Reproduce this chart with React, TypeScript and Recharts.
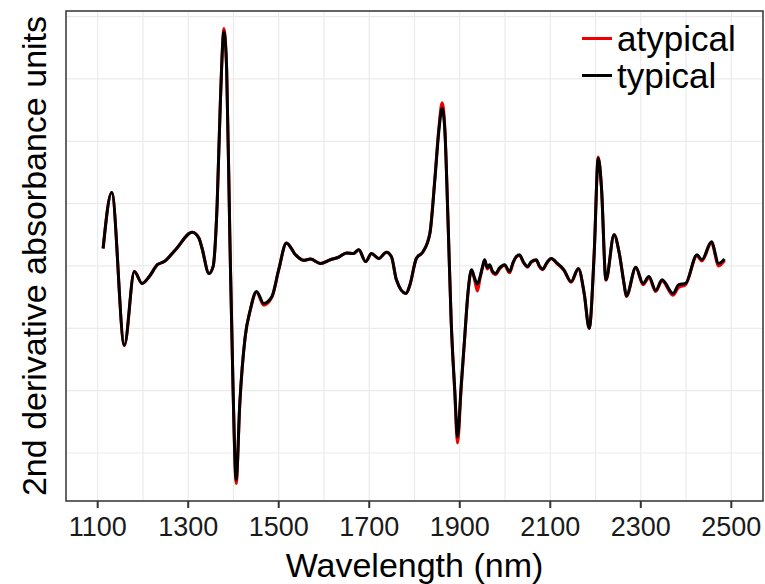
import { LineChart, Line, XAxis, YAxis, CartesianGrid, ReferenceArea, Legend } from 'recharts';

const FONT = '"Liberation Sans", Arial, Helvetica, sans-serif';

// wavelength (nm)
const wavelength = [
  1112, 1131, 1159, 1181, 1198, 1214, 1232, 1247, 1272, 1309, 1324, 1330, 1346, 1355, 1364, 1371,
  1379, 1385, 1392, 1399, 1406, 1414, 1426, 1437, 1451, 1467, 1485, 1500, 1517, 1537, 1555, 1570,
  1592, 1614, 1632, 1650, 1665, 1677, 1692, 1705, 1721, 1738, 1749, 1760, 1781, 1790, 1804, 1819,
  1834, 1845, 1854, 1861, 1867, 1874, 1881, 1889, 1895, 1903, 1911, 1918, 1926, 1933, 1939, 1945,
  1950, 1955, 1961, 1966, 1972, 1979, 1988, 1999, 2010, 2018, 2025, 2032, 2041, 2050, 2058, 2069,
  2076, 2083, 2093, 2102, 2116, 2130, 2146, 2162, 2175, 2186,
  2197, 2206, 2213, 2223, 2241, 2252, 2263, 2268, 2289, 2305, 2318, 2333, 2347, 2371, 2384, 2399,
  2424, 2435, 2456, 2472, 2485,
];

const typical = [
  0.28, 1.18, -1.27, -0.09, -0.28, -0.17, 0.02, 0.07, 0.26, 0.54, 0.44, 0.3, -0.12, -0.01, 1.0, 2.61,
  3.76, 3.14, 0.47, -1.93, -3.43, -2.2, -1.13, -0.71, -0.41, -0.6, -0.49, -0.06, 0.37, 0.18, 0.09, 0.11,
  0.04, 0.1, 0.14, 0.21, 0.2, 0.26, 0.07, 0.2, 0.12, 0.22, 0.15, -0.22, -0.44, -0.3, 0.12, 0.23,
  0.52, 1.38, 2.18, 2.53, 2.18, 0.74, -0.87, -1.99, -2.74, -1.93, -1.13, -0.44, -0.06, -0.2, -0.29, -0.17,
  -0.02, 0.1, -0.03, 0.02, -0.08, -0.12, -0.03, 0.02, -0.09, 0.06, 0.15, 0.18, 0.06, -0.01, 0.07, 0.1,
  0.0, -0.05, 0.06, 0.12, 0.04, -0.06, -0.25, -0.04, -0.44, -1.0,
  0.2, 1.73, 1.27, -0.22, 0.5, 0.22, -0.28, -0.48, -0.02, -0.28, -0.17, -0.39, -0.22, -0.44, -0.3, -0.28,
  0.18, 0.1, 0.39, 0.04, 0.11,
];

const atypical = [
  0.28, 1.18, -1.28, -0.09, -0.28, -0.17, 0.02, 0.07, 0.26, 0.54, 0.44, 0.3, -0.12, -0.01, 1.0, 2.63,
  3.81, 3.16, 0.47, -1.95, -3.49, -2.22, -1.13, -0.71, -0.42, -0.63, -0.5, -0.06, 0.37, 0.18, 0.09, 0.11,
  0.04, 0.1, 0.14, 0.21, 0.2, 0.26, 0.07, 0.2, 0.12, 0.22, 0.15, -0.22, -0.44, -0.3, 0.12, 0.23,
  0.53, 1.41, 2.23, 2.62, 2.22, 0.74, -0.89, -2.04, -2.84, -1.98, -1.15, -0.45, -0.07, -0.23, -0.4, -0.19,
  -0.04, 0.09, -0.05, 0.01, -0.1, -0.14, -0.05, 0.01, -0.11, 0.05, 0.15, 0.17, 0.05, -0.02, 0.06, 0.09,
  -0.01, -0.06, 0.05, 0.12, 0.03, -0.07, -0.26, -0.05, -0.45, -1.0,
  0.2, 1.75, 1.27, -0.23, 0.5, 0.22, -0.29, -0.49, -0.03, -0.3, -0.19, -0.41, -0.24, -0.47, -0.34, -0.3,
  0.16, 0.08, 0.37, 0.0, 0.09,
];

const xTicks = [1100, 1300, 1500, 1700, 1900, 2100, 2300, 2500];
const xGrid = [1100, 1200, 1300, 1400, 1500, 1600, 1700, 1800, 1900, 2000, 2100, 2200, 2300, 2400, 2500];
const yGrid = [-3, -2, -1, 0, 1, 2, 3, 4];

const rows = wavelength.map((nm, i) => ({ nm, typical: typical[i], atypical: atypical[i] }));

const renderLegend = (props: any) => {
  const { payload } = props;
  return (
    <div style={{ fontFamily: FONT }}>
      {(payload || []).map((entry: any) => (
        <div key={entry.value} style={{ display: 'flex', alignItems: 'center', height: 37 }}>
          <span style={{ display: 'inline-block', width: 30, height: 3, background: entry.color, marginRight: 5 }} />
          <span style={{ fontSize: 35, lineHeight: '37px', color: '#000' }}>{entry.value}</span>
        </div>
      ))}
    </div>
  );
};

export default function App() {
  return (
    <div style={{ position: 'absolute', left: 0, top: 0, width: 765, height: 584, background: '#fff' }}>
      <LineChart width={765} height={584} data={rows} margin={{ top: 11, right: 2, bottom: 0, left: 2 }}>
        <CartesianGrid stroke="#ebebeb" strokeWidth={1.2} verticalValues={xGrid} />
        <XAxis
          dataKey="nm"
          type="number"
          domain={[1030, 2570]}
          allowDataOverflow
          ticks={xTicks}
          axisLine={false}
          tickLine={{ stroke: '#333', strokeWidth: 2 }}
          tickSize={7}
          tickMargin={9}
          tick={{ fontSize: 27, fill: '#1a1a1a', fontFamily: FONT }}
          height={83}
          label={{ value: 'Wavelength (nm)', position: 'insideBottom', offset: 7, fontSize: 34, fill: '#000', fontFamily: FONT }}
        />
        <YAxis
          type="number"
          domain={[-3.77, 4.09]}
          allowDataOverflow
          ticks={yGrid}
          tick={() => null}
          tickLine={false}
          axisLine={false}
          width={64}
          label={{ value: '2nd derivative absorbance units', angle: -90, position: 'center', fontSize: 34, fill: '#000', fontFamily: FONT }}
        />
        <ReferenceArea x1={1030} x2={2570} y1={-3.77} y2={4.09} fill="none" stroke="#333" strokeWidth={1.5} />
        <Line type="monotone" dataKey="atypical" name="atypical" stroke="#ee0000" strokeWidth={3} dot={false} isAnimationActive={false} />
        <Line type="monotone" dataKey="typical" name="typical" stroke="#000" strokeWidth={3} dot={false} isAnimationActive={false} />
        <Legend
          layout="vertical"
          align="center"
          verticalAlign="middle"
          content={renderLegend}
          wrapperStyle={{ position: 'absolute', left: 582, top: 20, width: 180 }}
        />
      </LineChart>
    </div>
  );
}
